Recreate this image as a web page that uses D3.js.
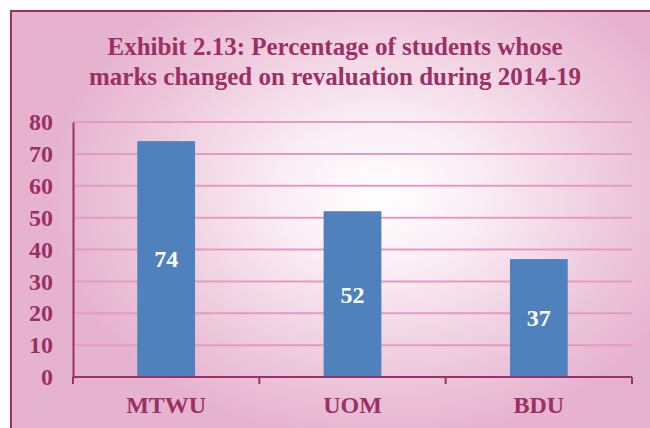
<!DOCTYPE html>
<html>
<head>
<meta charset="utf-8">
<script src="https://cdn.jsdelivr.net/npm/d3@7"></script>
<style>
  html, body { margin: 0; padding: 0; background: #fff; }
  svg { display: block; font-family: serif; }
</style>
</head>
<body>
<div id="chart"></div>
<script>
// dữ liệu
const categories = ["MTWU", "UOM", "BDU"];
const values = [74, 52, 37];
const yTicks = [0, 10, 20, 30, 40, 50, 60, 70, 80];
const titleLines = [
  "Exhibit 2.13: Percentage of students whose",
  "marks changed on revaluation during 2014-19"
];

const W = 650, H = 428;
const plot = { left: 73, right: 632, top: 122, bottom: 377 };
const dark = "#9C2F66";

const svg = d3.select("#chart").append("svg")
  .attr("width", W)
  .attr("height", H)
  .style("font-family", "serif");

// nền gradient
const defs = svg.append("defs");
const grad = defs.append("radialGradient")
  .attr("id", "bg")
  .attr("gradientUnits", "userSpaceOnUse")
  .attr("cx", 380).attr("cy", 195).attr("r", 330)
  .attr("gradientTransform", "translate(380,195) scale(1,0.75) translate(-380,-195)");
grad.append("stop").attr("offset", 0).attr("stop-color", "#FFFFFF");
grad.append("stop").attr("offset", 0.3).attr("stop-color", "#FAEEF4");
grad.append("stop").attr("offset", 0.75).attr("stop-color", "#EDC6DA");
grad.append("stop").attr("offset", 1).attr("stop-color", "#E6B3CF");

svg.append("rect")
  .attr("x", 10).attr("y", 10)
  .attr("width", W).attr("height", H)
  .attr("fill", "url(#bg)");

// khung
svg.append("path")
  .attr("d", `M11,${H} L11,11 L${W},11`)
  .attr("fill", "none")
  .attr("stroke", dark)
  .attr("stroke-width", 2);

// chữ đậm kiểu Times
function serifText(sel, size) {
  return sel
    .style("font-family", "serif")
    .style("font-weight", "bold")
    .style("font-size", size + "px");
}

// tiêu đề
const title = svg.append("g").selectAll("text")
  .data(titleLines)
  .enter().append("text")
    .attr("x", 335)
    .attr("y", (d, i) => 55 + i * 29.5)
    .attr("text-anchor", "middle")
    .attr("fill", dark)
    .text(d => d);
serifText(title, 25);

// scales
const x = d3.scaleBand().domain(categories).range([plot.left, plot.right]).padding(0);
const y = d3.scaleLinear().domain([0, 80]).range([plot.bottom, plot.top]);
const barW = x.bandwidth() * 0.31;

// lưới
svg.append("g").selectAll("line")
  .data(yTicks.filter(d => d > 0))
  .enter().append("line")
    .attr("x1", plot.left).attr("x2", plot.right)
    .attr("y1", d => y(d)).attr("y2", d => y(d))
    .attr("stroke", "#E39BC0")
    .attr("stroke-width", 2);

// cột
svg.append("g").selectAll("rect")
  .data(values)
  .enter().append("rect")
    .attr("x", (d, i) => x(categories[i]) + (x.bandwidth() - barW) / 2)
    .attr("y", d => y(d))
    .attr("width", barW)
    .attr("height", d => y(0) - y(d))
    .attr("fill", "#4F81BD");

// nhãn giá trị
const vl = svg.append("g").selectAll("text")
  .data(values)
  .enter().append("text")
    .attr("x", (d, i) => x(categories[i]) + x.bandwidth() / 2)
    .attr("y", d => (y(d) + y(0)) / 2)
    .attr("dy", "0.35em")
    .attr("text-anchor", "middle")
    .attr("fill", "#fff")
    .text(d => d);
serifText(vl, 24);

// trục y
const yAxis = svg.append("g")
  .attr("transform", `translate(${plot.left},0)`)
  .call(d3.axisLeft(y).tickValues(yTicks).tickSize(0).tickPadding(20));
yAxis.attr("font-family", null).attr("font-size", null);
yAxis.select(".domain").attr("stroke", dark).attr("stroke-width", 2);
serifText(yAxis.selectAll("text").attr("fill", dark), 24);

// trục x
const edges = categories.map(c => x(c)).concat([plot.right]);
const xg = svg.append("g");
xg.append("line")
  .attr("x1", plot.left).attr("x2", plot.right)
  .attr("y1", y(0)).attr("y2", y(0))
  .attr("stroke", dark).attr("stroke-width", 2);
xg.selectAll(".tick")
  .data(edges)
  .enter().append("line")
    .attr("class", "tick")
    .attr("x1", d => d).attr("x2", d => d)
    .attr("y1", y(0)).attr("y2", y(0) + 7)
    .attr("stroke", dark).attr("stroke-width", 2);
const xl = xg.selectAll("text")
  .data(categories)
  .enter().append("text")
    .attr("x", d => x(d) + x.bandwidth() / 2)
    .attr("y", 413)
    .attr("text-anchor", "middle")
    .attr("fill", dark)
    .text(d => d);
serifText(xl, 24);
</script>
</body>
</html>
